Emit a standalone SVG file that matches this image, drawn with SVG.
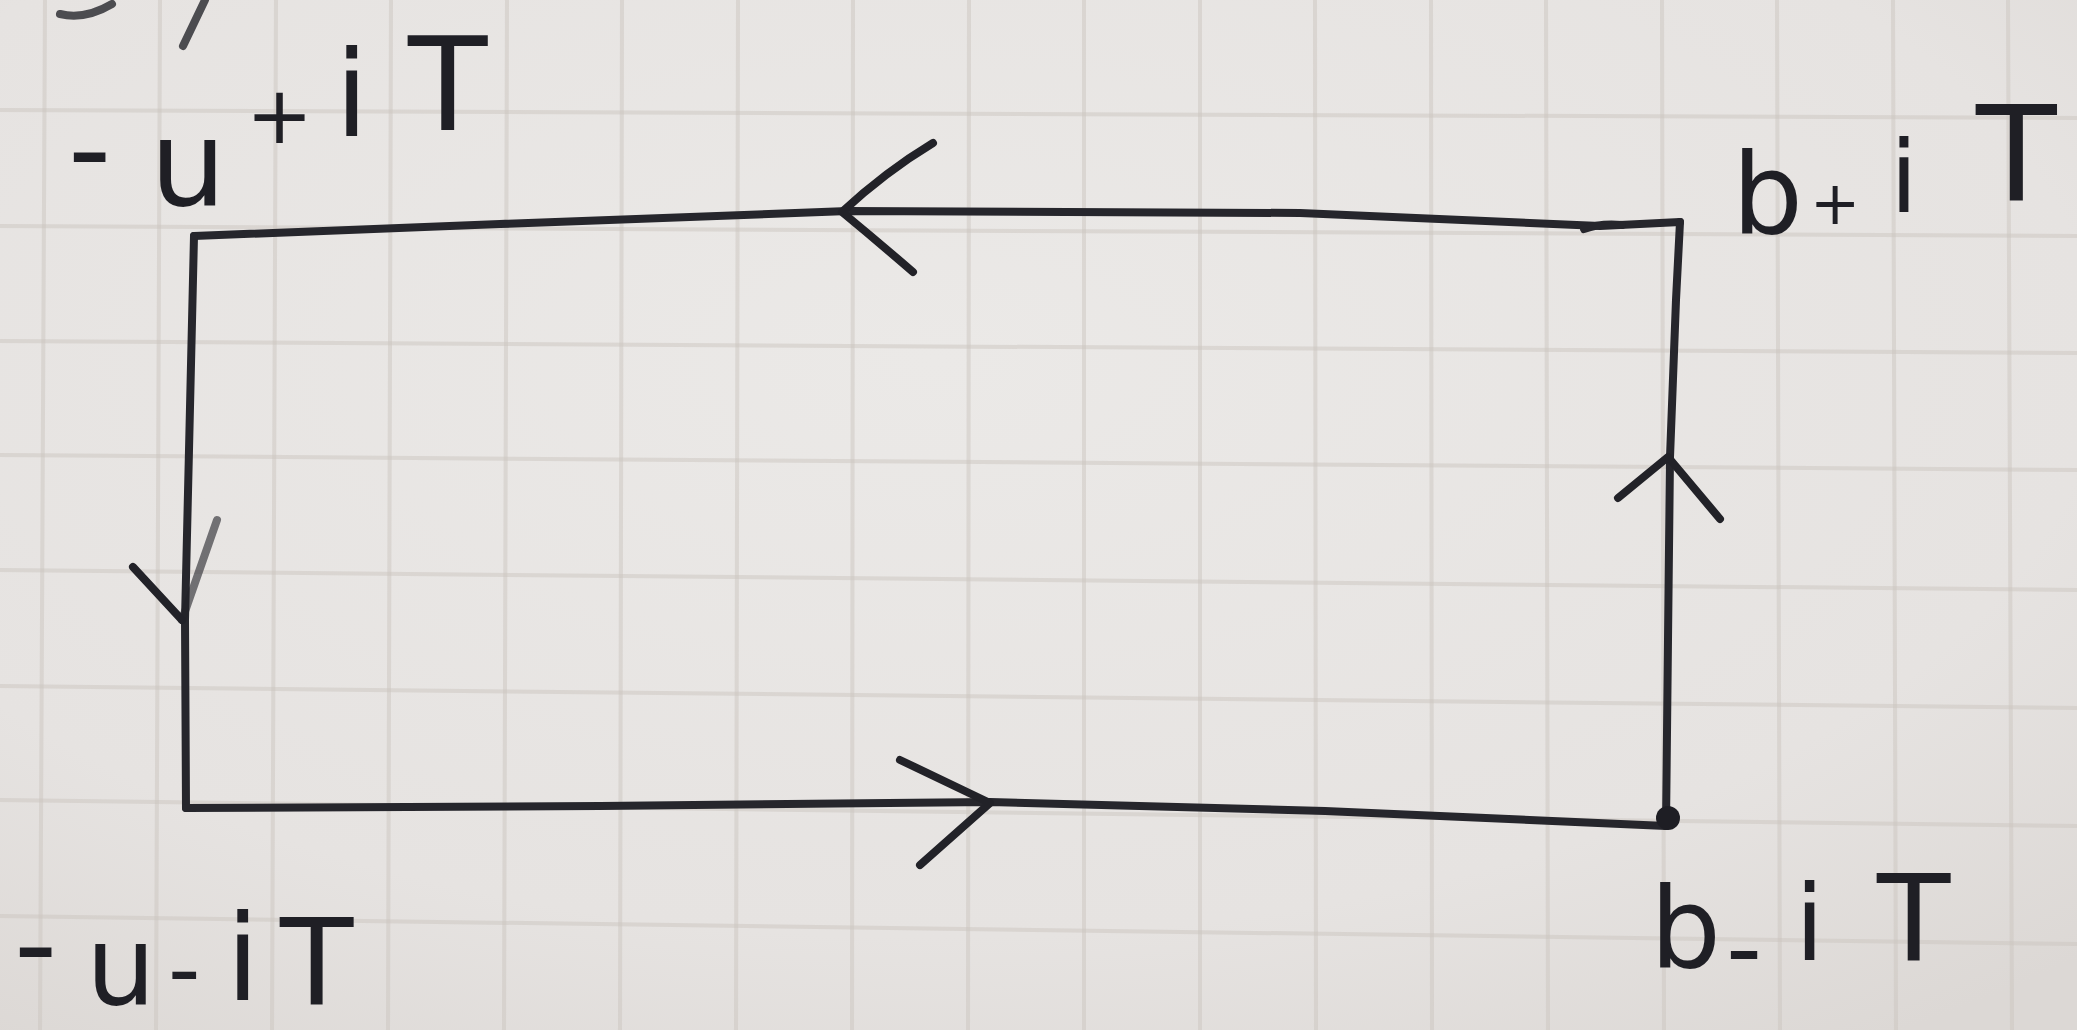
<svg xmlns="http://www.w3.org/2000/svg" width="2077" height="1030" viewBox="0 0 2077 1030">
<defs>
<radialGradient id="paper" cx="0.45" cy="0.35" r="0.8">
<stop offset="0" stop-color="#ebe9e7"/>
<stop offset="0.7" stop-color="#e6e3e1"/>
<stop offset="1" stop-color="#dcd8d5"/>
</radialGradient>
<style>
.grid{stroke:#cbc6bf;stroke-width:4;fill:none;opacity:0.5}
.pen{stroke:#26262c;stroke-width:8;fill:none;stroke-linecap:round;stroke-linejoin:round}
.bar{stroke:#222228;stroke-width:8;fill:none;stroke-linecap:round;stroke-linejoin:round}
.lbl{font-family:"DejaVu Sans","Liberation Sans",sans-serif;fill:#1f1f25;font-size:120px}
</style>
</defs>
<rect width="2077" height="1030" fill="url(#paper)"/>
<g id="grid">
<path class="grid" d="M45 0 L40 1030 M160 0 L156 1030 M276 0 L272 1030 M391 0 L388 1030 M507 0 L504 1030 M622 0 L620 1030 M738 0 L736 1030 M853 0 L852 1030 M969 0 L968 1030 M1084 0 L1084 1030 M1200 0 L1200 1030 M1315 0 L1316 1030 M1431 0 L1432 1030 M1546 0 L1548 1030 M1662 0 L1664 1030 M1777 0 L1780 1030 M1893 0 L1896 1030 M2008 0 L2012 1030"/>
<path class="grid" d="M0 110 L2077 118 M0 226 L2077 236 M0 341 L2077 353 M0 455 L2077 470 M0 570 L2077 590 M0 686 L2077 708 M0 800 L2077 826 M0 916 L2077 944"/>
</g>
<g id="marks">
<path class="pen" d="M60 14 Q85 20 112 4" stroke-width="6" opacity="0.8"/>
<path class="pen" d="M205 0 L183 46" stroke-width="6" opacity="0.8"/>
</g>
<g id="connectors">
<path id="edge-top" class="pen" d="M1680 222 L1600 226 L1300 213 L848 211 L500 224 L194 236"/>
<path id="edge-left" class="pen" d="M194 236 L189 450 L185 620 L186 808"/>
<path id="edge-bottom" class="pen" d="M186 808 L600 806 L990 802 L1325 811 L1666 826"/>
<path id="edge-right" class="pen" stroke-width="9" d="M1666 826 L1668 640 L1670 457 L1676 300 L1680 222"/>
<path id="blob" class="pen" stroke-width="12" d="M1584 229 Q1600 223 1622 225"/>
<circle id="dot" cx="1668" cy="818" r="12" fill="#1e1e24"/>
</g>
<g id="arrows">
<path class="bar" d="M933 143 Q885 172 842 212 Q876 240 913 272"/>
<path class="bar" d="M133 567 L182 620"/>
<path class="bar" d="M182 620 L217 520" opacity="0.6"/>
<path class="bar" d="M900 760 L990 803 L920 865"/>
<path class="bar" d="M1618 498 L1668 457 L1720 519"/>
</g>
<g id="label-top-left">
<text class="lbl"><tspan x="68" y="190">-</tspan><tspan x="150" y="205">u</tspan><tspan x="246" y="143" font-size="80">+</tspan><tspan x="335" y="136">i</tspan><tspan x="408" y="130" font-size="130">T</tspan></text>
</g>
<g id="label-top-right">
<text class="lbl"><tspan x="1732" y="233" font-size="112">b</tspan><tspan x="1810" y="224" font-size="60">+</tspan><tspan x="1890" y="212" font-size="100">i</tspan><tspan x="1976" y="200" font-size="132">T</tspan></text>
</g>
<g id="label-bottom-left">
<text class="lbl"><tspan x="14" y="985">-</tspan><tspan x="86" y="1004" font-size="110">u</tspan><tspan x="168" y="1000" font-size="90">-</tspan><tspan x="226" y="1000">i</tspan><tspan x="280" y="1004">T</tspan></text>
</g>
<g id="label-bottom-right">
<text class="lbl"><tspan x="1650" y="967" font-size="112">b</tspan><tspan x="1726" y="982" font-size="100">-</tspan><tspan x="1795" y="960" font-size="105">i</tspan><tspan x="1877" y="960">T</tspan></text>
</g>
</svg>
